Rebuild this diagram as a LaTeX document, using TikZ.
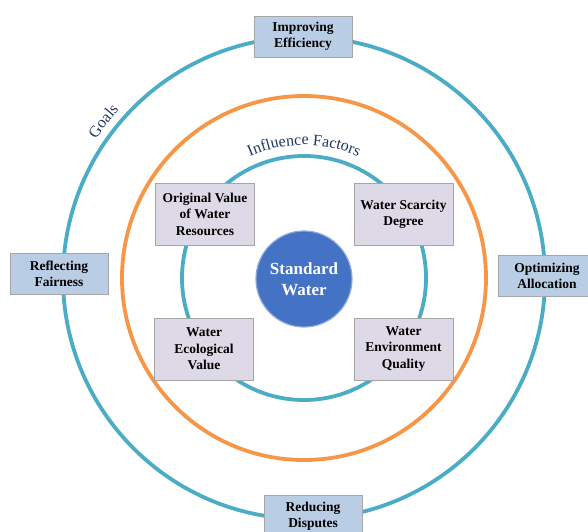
\documentclass[tikz,border=0pt]{standalone}
\usepackage{fontspec}
\setmainfont{Liberation Serif}
\usetikzlibrary{decorations.text}
\definecolor{ringteal}{HTML}{4BACC6}
\definecolor{ringorange}{HTML}{F79646}
\definecolor{goalfill}{HTML}{B9CDE5}
\definecolor{factfill}{HTML}{DDD9E6}
\definecolor{boxline}{HTML}{A6A6A6}
\definecolor{diskblue}{HTML}{4472C4}
\definecolor{diskedge}{HTML}{8EA9DB}
\definecolor{navytext}{HTML}{1F3864}
\tikzset{
  ring/.style={line width=3.8pt},
  goalbox/.style={draw=boxline, line width=0.8pt, fill=goalfill, minimum width=98pt, minimum height=41pt, inner sep=0pt, align=center, font=\fontsize{13.5}{16}\selectfont\bfseries},
  factbox/.style={draw=boxline, line width=0.8pt, fill=factfill, minimum width=99pt, minimum height=62pt, inner sep=0pt, align=center, font=\fontsize{13.5}{16.5}\selectfont\bfseries},
  arclabel/.style={decorate, decoration={text along path, text align=center, text color=navytext}}
}
\begin{document}
\begin{tikzpicture}[x=1pt,y=1pt]
\useasboundingbox (0,0) rectangle (588,531);
\clip (0,0) rectangle (588,531);
\fill[white] (0,0) rectangle (588,531);
\coordinate (C) at (304,253);
% rings
\draw[ring, ringteal] (C) circle (241);
\draw[ring, ringorange] (C) circle (182);
\draw[ring, ringteal] (C) circle (122);
% arc labels
\path[arclabel, decoration={text={|\fontsize{16}{16}\selectfont|Goals}}]
  ([shift={(160:250)}]C) arc (160:124:250);
\path[arclabel, decoration={text={|\fontsize{16}{16}\selectfont|Influence Factors}}]
  ([shift={(135:133)}]C) arc (135:45:133);
% centre
\node[circle, minimum size=96pt, inner sep=0pt, fill=diskblue, draw=diskedge, line width=1.2pt,
      text=white, align=center, font=\fontsize{17}{21}\selectfont\bfseries] (sw) at (304,252) {Standard\\Water};
% influence factors
\node[factbox] (ov) at (205,317) {Original Value\\of Water\\Resources};
\node[factbox] (ws) at (403.5,316.5) {Water Scarcity\\Degree};
\node[factbox] (we) at (204,182) {Water\\Ecological\\Value};
\node[factbox] (wq) at (403.5,182) {Water\\Environment\\Quality};
% goals
\node[goalbox] (ie) at (303,494.5) {Improving\\Efficiency};
\node[goalbox] (rf) at (59,257) {Reflecting\\Fairness};
\node[goalbox] (oa) at (547,255.5) {Optimizing\\Allocation};
\node[goalbox, minimum height=42pt] (rd) at (313,15) {Reducing\\Disputes};
\end{tikzpicture}
\end{document}
